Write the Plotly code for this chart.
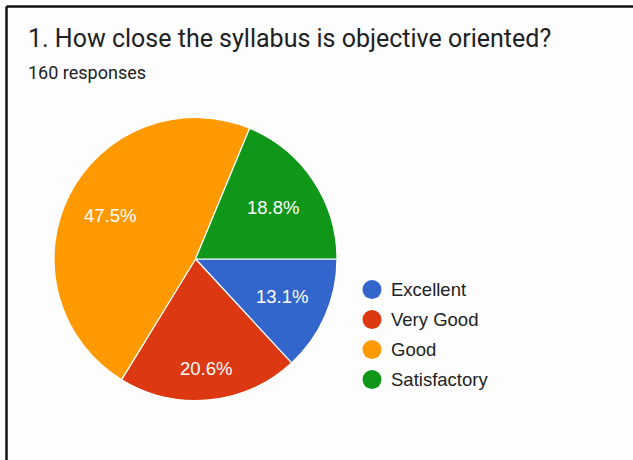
import math
import plotly.graph_objects as go

# Survey answers
categories = ["Excellent", "Very Good", "Good", "Satisfactory"]
responses = [21, 33, 76, 30]
colors = ["#3366cc", "#dc3912", "#ff9900", "#109618"]

title_text = "1. How close the syllabus is objective oriented?"
subtitle_text = f"{sum(responses)} responses"

W, H = 633, 460
cx, cy, r = 195.5, 259.0, 141.5  # pie centre / radius in px
# distance of each percentage label from the centre, as a fraction of the radius
label_radius = [0.67, 0.78, 0.68, 0.66]

fig = go.Figure()
fig.add_trace(go.Pie(
    labels=categories,
    values=responses,
    sort=False,
    direction="clockwise",
    rotation=90,
    marker=dict(colors=colors, line=dict(color="#ffffff", width=1.2)),
    textinfo="none",
    hoverinfo="label+value+percent",
    showlegend=False,
    domain=dict(x=[(cx - r) / W, (cx + r) / W], y=[1 - (cy + r) / H, 1 - (cy - r) / H]),
))

annotations = []
shapes = []

# percentage labels placed along each slice's mid angle
total = sum(responses)
start = 90.0
for v, k in zip(responses, label_radius):
    span = 360.0 * v / total
    mid = math.radians(start + span / 2)
    px = cx + k * r * math.sin(mid)
    py = cy - k * r * math.cos(mid)
    annotations.append(dict(
        x=px / W, y=1 - py / H, xref="paper", yref="paper",
        text=f"{100 * v / total:.1f}%", showarrow=False,
        font=dict(family="Liberation Sans, Arial", size=18.5, color="#ffffff"),
        xanchor="center", yanchor="middle",
    ))
    start += span

# legend with round markers
for i, (lab, col) in enumerate(zip(categories, colors)):
    ly = 289.5 + 30 * i
    shapes.append(dict(
        type="circle", xref="paper", yref="paper",
        x0=(372 - 9.5) / W, x1=(372 + 9.5) / W,
        y0=1 - (ly + 9.5) / H, y1=1 - (ly - 9.5) / H,
        fillcolor=col, line=dict(width=0),
    ))
    annotations.append(dict(
        x=389 / W, y=1 - ly / H, xref="paper", yref="paper",
        text=lab, showarrow=False, xanchor="left", yanchor="middle",
        font=dict(family="Liberation Sans, Arial", size=18.5, color="#222222"),
    ))

# title and response count
annotations.append(dict(
    x=26 / W, y=1 - 39 / H, xref="paper", yref="paper", text=title_text,
    showarrow=False, xanchor="left", yanchor="middle",
    font=dict(family="Roboto, Arial", size=25, color="#202124"),
))
annotations.append(dict(
    x=26 / W, y=1 - 72 / H, xref="paper", yref="paper", text=subtitle_text,
    showarrow=False, xanchor="left", yanchor="middle",
    font=dict(family="Roboto, Arial", size=18, color="#202124"),
))

# card frame along the top and left edges
shapes.append(dict(type="line", xref="paper", yref="paper",
                   x0=6.5 / W, x1=1.05, y0=1 - 6.5 / H, y1=1 - 6.5 / H,
                   line=dict(color="#111111", width=2.5)))
shapes.append(dict(type="line", xref="paper", yref="paper",
                   x0=6.5 / W, x1=6.5 / W, y0=1 - 6.5 / H, y1=-0.05,
                   line=dict(color="#111111", width=2.5)))

fig.update_layout(
    width=W, height=H,
    margin=dict(l=0, r=0, t=0, b=0),
    paper_bgcolor="#fdfdfd",
    plot_bgcolor="#fdfdfd",
    annotations=annotations,
    shapes=shapes,
)

fig.write_html("out.html")
